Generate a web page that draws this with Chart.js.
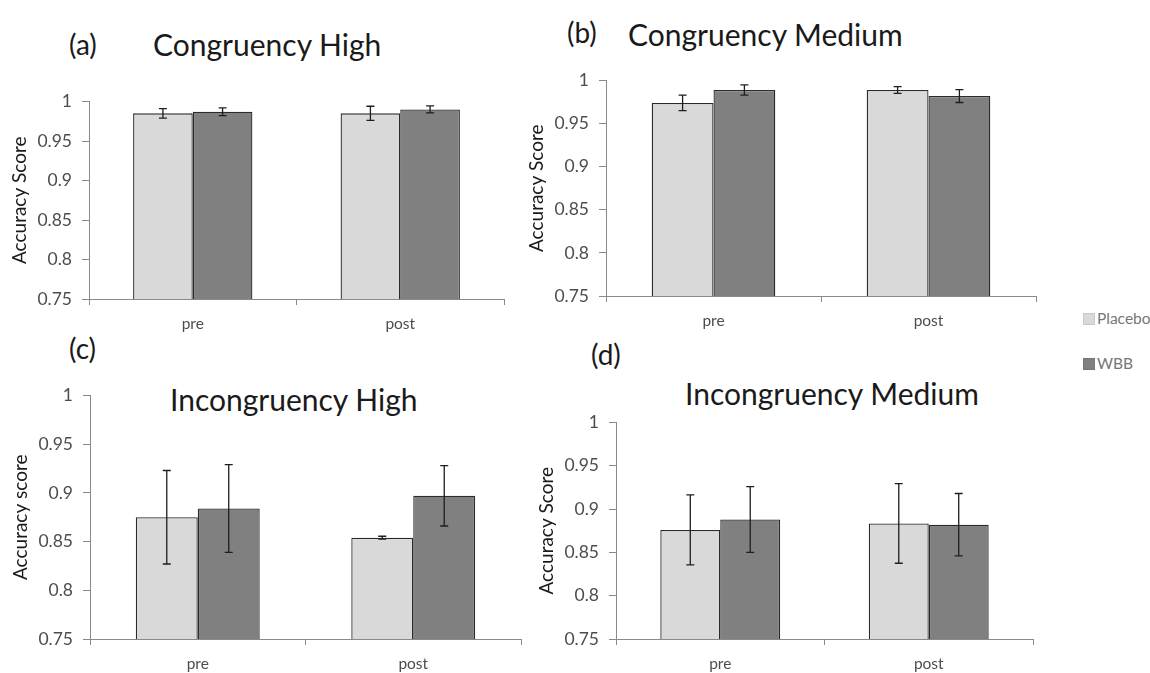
<!DOCTYPE html>
<html>
<head>
<meta charset="utf-8">
<script src="https://cdn.jsdelivr.net/npm/chart.js@4"></script>
<style>
  body { margin: 0; background: #fff; font-family: Lato, "Open Sans", sans-serif; }
  #page { position: relative; width: 1150px; height: 673px; overflow: hidden; }
  canvas { position: absolute; }
  .lbl { position: absolute; font-size: 28px; line-height: 28px; color: #1a1a1a; white-space: nowrap; }
  .ttl { font-size: 30px; line-height: 30px; }
  .leg { position: absolute; font-size: 15.5px; line-height: 16px; color: #767676; white-space: nowrap; }
  .sq { position: absolute; width: 10px; height: 10px; }
</style>
</head>
<body>
<div id="page">
  <div class="lbl" style="left:69px;top:30px">(a)</div>
  <div class="lbl ttl" style="left:153px;top:29px">Congruency High</div>
  <div class="lbl" style="left:567px;top:18px">(b)</div>
  <div class="lbl ttl" style="left:628px;top:19px">Congruency Medium</div>
  <div class="lbl" style="left:69px;top:334px">(c)</div>
  <div class="lbl ttl" style="left:170px;top:384px">Incongruency High</div>
  <div class="lbl" style="left:591px;top:340px">(d)</div>
  <div class="lbl ttl" style="left:685px;top:378px">Incongruency Medium</div>

  <div class="sq" style="left:1083px;top:313px;background:#d9d9d9;border:1px solid #c8c8c8"></div>
  <div class="leg" style="left:1097px;top:310px">Placebo</div>
  <div class="sq" style="left:1083px;top:358px;background:#808080;border:1px solid #767676"></div>
  <div class="leg" style="left:1097px;top:355px">WBB</div>

  <canvas id="chartA" width="508" height="258" style="left:0px;top:81px"></canvas>
  <canvas id="chartB" width="523" height="276" style="left:517px;top:60px"></canvas>
  <canvas id="chartC" width="524" height="304" style="left:1px;top:375px"></canvas>
  <canvas id="chartD" width="510" height="277" style="left:527px;top:402px"></canvas>
</div>

<script>
// data
var categories = ["pre", "post"];
var seriesNames = ["Placebo", "WBB"];
var yTicks = [0.75, 0.8, 0.85, 0.9, 0.95, 1];

var congHighPlacebo = [0.985, 0.985];
var congHighPlaceboErr = [0.006, 0.009];
var congHighWBB = [0.987, 0.990];
var congHighWBBErr = [0.005, 0.0045];

var congMedPlacebo = [0.974, 0.989];
var congMedPlaceboErr = [0.009, 0.004];
var congMedWBB = [0.989, 0.982];
var congMedWBBErr = [0.006, 0.0075];

var incHighPlacebo = [0.875, 0.854];
var incHighPlaceboErr = [0.048, 0.0015];
var incHighWBB = [0.884, 0.897];
var incHighWBBErr = [0.045, 0.031];

var incMedPlacebo = [0.876, 0.8835];
var incMedPlaceboErr = [0.0405, 0.046];
var incMedWBB = [0.888, 0.882];
var incMedWBBErr = [0.038, 0.036];

// draws the error bars from dataset.errors using the y scale
var errorBars = {
  id: "errorBars",
  afterDatasetsDraw: function (chart) {
    var ctx = chart.ctx;
    var y = chart.scales.y;
    ctx.save();
    ctx.strokeStyle = "#1e1e1e";
    ctx.lineWidth = 1.3;
    chart.data.datasets.forEach(function (ds, i) {
      var meta = chart.getDatasetMeta(i);
      meta.data.forEach(function (bar, j) {
        var v = ds.data[j];
        var e = ds.errors[j];
        var top = y.getPixelForValue(v + e);
        var bot = y.getPixelForValue(v - e);
        ctx.beginPath();
        ctx.moveTo(bar.x, top);
        ctx.lineTo(bar.x, bot);
        ctx.moveTo(bar.x - 4, top);
        ctx.lineTo(bar.x + 4, top);
        ctx.moveTo(bar.x - 4, bot);
        ctx.lineTo(bar.x + 4, bot);
        ctx.stroke();
      });
    });
    ctx.restore();
  },
};

function makeChart(id, placebo, placeboErr, wbb, wbbErr, yTitle) {
  new Chart(id, {
    type: "bar",
    data: {
      labels: categories,
      datasets: [
        {
          label: seriesNames[0],
          data: placebo,
          errors: placeboErr,
          backgroundColor: "#d9d9d9",
          borderColor: "#2b2b2b",
          borderWidth: 1.3,
        },
        {
          label: seriesNames[1],
          data: wbb,
          errors: wbbErr,
          backgroundColor: "#808080",
          borderColor: "#2b2b2b",
          borderWidth: 1.3,
        },
      ],
    },
    options: {
      responsive: false,
      animation: false,
      devicePixelRatio: 1,
      categoryPercentage: 0.575,
      barPercentage: 1,
      layout: { padding: { top: 12, right: 4, left: 0, bottom: 0 } },
      plugins: {
        legend: { display: false },
        tooltip: { enabled: false },
      },
      scales: {
        x: {
          afterFit: function (s) { s.height = 40; },
          grid: { drawOnChartArea: false, tickLength: 6, color: "#8a8a8a" },
          border: { color: "#8a8a8a", width: 1 },
          ticks: { color: "#4d4d4d", padding: 10, font: { family: "Lato", size: 15.5 } },
        },
        y: {
          min: 0.75,
          max: 1,
          afterFit: function (s) { s.width = 89; },
          afterBuildTicks: function (s) {
            s.ticks = yTicks.map(function (v) { return { value: v }; });
          },
          grid: { drawOnChartArea: false, tickLength: 7, color: "#8a8a8a" },
          border: { color: "#8a8a8a", width: 1 },
          ticks: {
            color: "#4d4d4d",
            padding: 10,
            font: { family: "Lato", size: 17.5 },
            callback: function (v) { return String(+v.toFixed(2)); },
          },
          title: {
            display: true,
            text: yTitle,
            color: "#1a1a1a",
            padding: { top: 8, bottom: 0 },
            font: { family: "Lato", size: 19 },
          },
        },
      },
    },
    plugins: [errorBars],
  });
}

makeChart("chartA", congHighPlacebo, congHighPlaceboErr, congHighWBB, congHighWBBErr, "Accuracy Score");
makeChart("chartB", congMedPlacebo, congMedPlaceboErr, congMedWBB, congMedWBBErr, "Accuracy Score");
makeChart("chartC", incHighPlacebo, incHighPlaceboErr, incHighWBB, incHighWBBErr, "Accuracy score");
makeChart("chartD", incMedPlacebo, incMedPlaceboErr, incMedWBB, incMedWBBErr, "Accuracy Score");
</script>
</body>
</html>
